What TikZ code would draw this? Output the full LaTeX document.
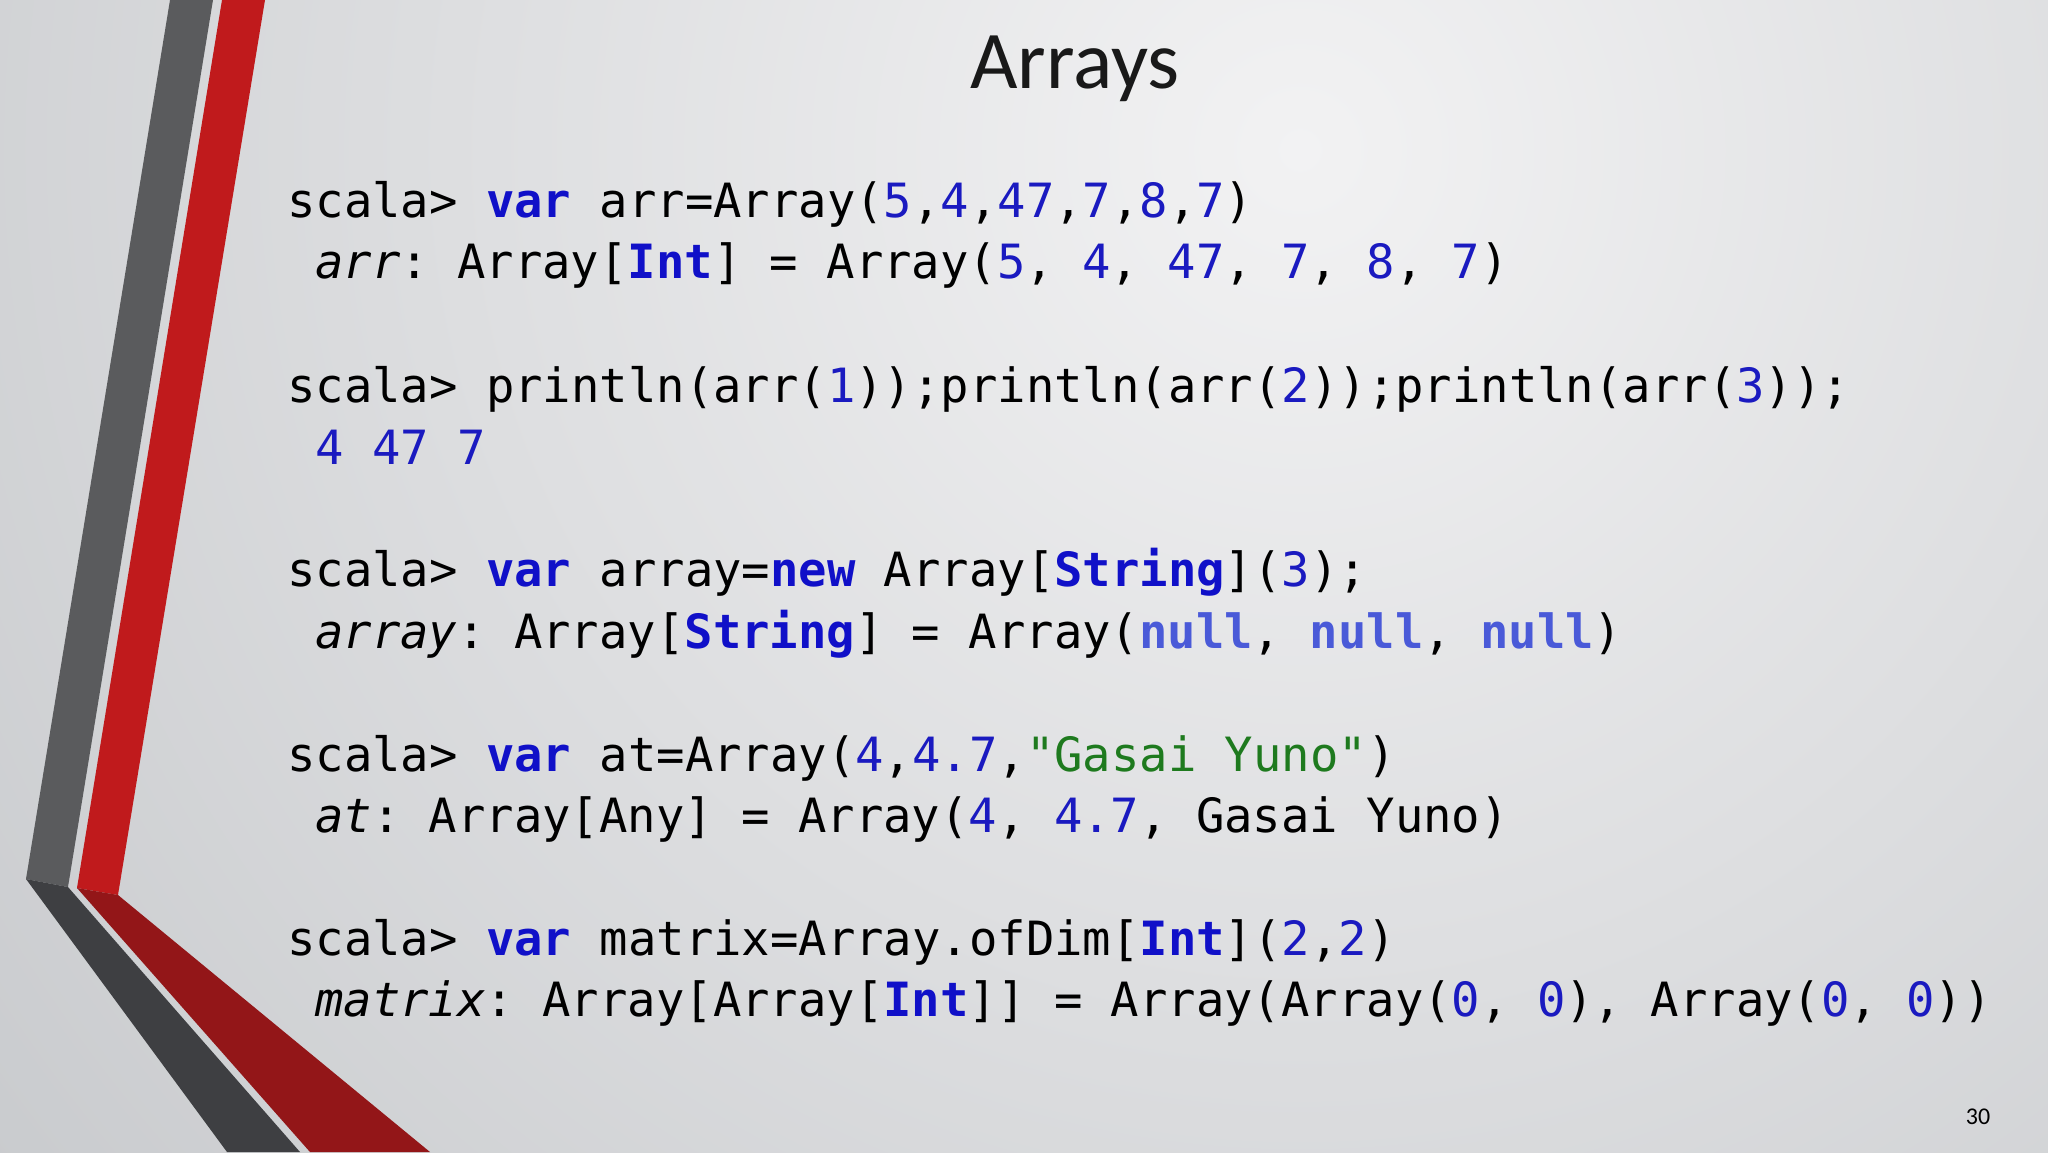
\documentclass[tikz,border=0pt]{standalone}
\usepackage{fontspec}
\setmainfont{Carlito}
\setmonofont{DejaVu Sans Mono}
\definecolor{kwc}{HTML}{1010C8}
\definecolor{nmc}{HTML}{1A1AC0}
\definecolor{nlc}{HTML}{4A5AD8}
\definecolor{stc}{HTML}{1E7A1E}
\definecolor{grayup}{HTML}{5A5B5D}
\definecolor{graylo}{HTML}{3E3F42}
\definecolor{redup}{HTML}{C01A1C}
\definecolor{redlo}{HTML}{931618}
\definecolor{bgdark}{HTML}{C8CACD}
\definecolor{bglight}{HTML}{F2F2F3}
\newcommand{\kw}[1]{\textcolor{kwc}{\bfseries #1}}
\newcommand{\nm}[1]{\textcolor{nmc}{#1}}
\newcommand{\nl}[1]{\textcolor{nlc}{\bfseries #1}}
\newcommand{\st}[1]{\textcolor{stc}{#1}}
\begin{document}
\begin{tikzpicture}[x=1pt,y=-1pt,
  code/.style={anchor=base west,inner sep=0pt,font=\ttfamily\fontsize{47.2}{50}\selectfont}]
\useasboundingbox (0,0) rectangle (2048,1152);
\begin{scope}
\clip (0,0) rectangle (2048,1152);
\fill[bgdark] (0,0) rectangle (2048,1152);
\shade[inner color=bglight,outer color=bgdark] (1300,150) circle[radius=1700];
\end{scope}
% decoration
\fill[grayup] (170,0) -- (213,0) -- (68,887) -- (26,879) -- cycle;
\fill[graylo] (26,879) -- (68,887) -- (300,1152) -- (227,1152) -- cycle;
\fill[redup] (222,0) -- (265,0) -- (118,895) -- (77,888) -- cycle;
\fill[redlo] (77,888) -- (118,895) -- (430,1152) -- (310,1152) -- cycle;
% title
\node[anchor=base,inner sep=0pt,font=\fontsize{82}{86}\selectfont,text=black!90] (title) at (1075,88) {Arrays};
\node[anchor=base,inner sep=0pt,font=\fontsize{24}{26}\selectfont] (pg) at (1978,1124) {30};
% code
\node[code] (l1) at (287,217) {scala> \kw{var} arr=Array(\nm{5},\nm{4},\nm{47},\nm{7},\nm{8},\nm{7})};
\node[code] (l2) at (315,278) {\textit{arr}: Array[\kw{Int}] = Array(\nm{5}, \nm{4}, \nm{47}, \nm{7}, \nm{8}, \nm{7})};
\node[code] (l3) at (287,402) {scala> println(arr(\nm{1}));println(arr(\nm{2}));println(arr(\nm{3}));};
\node[code] (l4) at (315,464) {\nm{4 47 7}};
\node[code] (l5) at (287,586) {scala> \kw{var} array=\kw{new} Array[\kw{String}](\nm{3});};
\node[code] (l6) at (315,648) {\textit{array}: Array[\kw{String}] = Array(\nl{null}, \nl{null}, \nl{null})};
\node[code] (l7) at (287,771) {scala> \kw{var} at=Array(\nm{4},\nm{4.7},\st{"Gasai Yuno"})};
\node[code] (l8) at (315,832) {\textit{at}: Array[Any] = Array(\nm{4}, \nm{4.7}, Gasai Yuno)};
\node[code] (l9) at (287,955) {scala> \kw{var} matrix=Array.ofDim[\kw{Int}](\nm{2},\nm{2})};
\node[code] (l10) at (315,1016) {\textit{matrix}: Array[Array[\kw{Int}]] = Array(Array(\nm{0}, \nm{0}), Array(\nm{0}, \nm{0}))};
\end{tikzpicture}
\end{document}
